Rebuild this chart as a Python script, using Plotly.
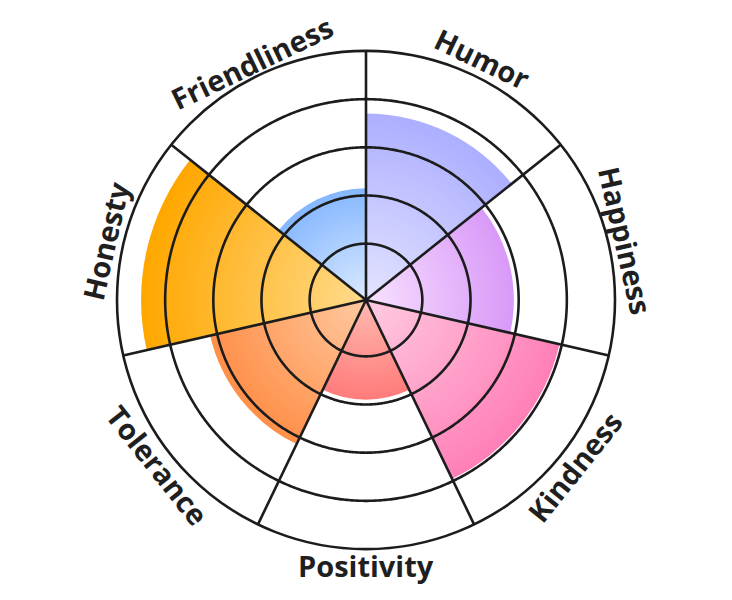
import numpy as np
import plotly.graph_objects as go

# ---------------- data ----------------
categories = ["Humor", "Happiness", "Kindness", "Positivity", "Tolerance", "Honesty", "Friendliness"]
values = [74, 58, 79, 38, 63, 90, 43]
inner_colors = ["#E4E4FF", "#F8E2FF", "#FFCCE2", "#FFBAB0", "#FFCAA2", "#FFDC8E", "#DDEBFF"]
outer_colors = ["#ADAFFF", "#D99AF8", "#FF80B7", "#FF7C7C", "#FF904A", "#FFA700", "#86B8FF"]
grid_values = [20, 40, 60, 80]
r_min, r_max = -3.4, 100

# ---------------- geometry helpers ----------------
W, H = 732, 600
OFF = 8  # page body margin
CX, CY, RPX = 366 - OFF, 300 - OFF, 249
n = len(categories)
sector = 360 / n
centers = [sector * (i + 0.5) for i in range(n)]
boundaries = [sector * i for i in range(n)]
STEPS = 70
FONT_SIZE = 29


def hex2rgb(h):
    h = h.lstrip("#")
    return [int(h[i:i + 2], 16) for i in (0, 2, 4)]


def mix(c0, c1, f):
    a, b = hex2rgb(c0), hex2rgb(c1)
    return "rgb(%d,%d,%d)" % tuple(round(a[i] + (b[i] - a[i]) * f) for i in range(3))


fig = go.Figure()

# gradient bars: overlaid, longest (darkest) first
for cat, val, c0, c1, th in zip(categories, values, inner_colors, outer_colors, centers):
    length = val - r_min
    fr = np.arange(STEPS, 0, -1) / STEPS
    fig.add_trace(go.Barpolar(
        r=length * fr,
        base=[r_min] * STEPS,
        theta=[th] * STEPS,
        width=[sector] * STEPS,
        marker=dict(color=[mix(c0, c1, f) for f in fr], line=dict(width=0)),
        name=cat, showlegend=False, hoverinfo="skip",
    ))

line_col = "#1c1c1c"
# grid circles drawn above bars
circle_theta = np.linspace(0, 360, 721)
for g in grid_values:
    fig.add_trace(go.Scatterpolar(
        r=[g] * len(circle_theta), theta=circle_theta, mode="lines",
        line=dict(color=line_col, width=2.6), showlegend=False, hoverinfo="skip",
    ))
# spokes at sector boundaries
for b in boundaries:
    fig.add_trace(go.Scatterpolar(
        r=[r_min, r_max], theta=[b, b], mode="lines",
        line=dict(color=line_col, width=2.6), showlegend=False, hoverinfo="skip",
    ))

# labels along the outer ring (tangent, pulled in a little for long words)
R_LABEL = 269
annotations = []
for cat, th in zip(categories, centers):
    L = len(cat) * 0.55 * FONT_SIZE
    rp = R_LABEL - 0.3 * (L / 2) ** 2 / (2 * R_LABEL)
    rad = np.deg2rad(th)
    px = CX + rp * np.sin(rad)
    py = CY - rp * np.cos(rad)
    if th <= 90:
        ang = th
    elif th < 270:
        ang = th - 180
    else:
        ang = th - 360
    annotations.append(dict(
        x=px / W, y=1 - py / H, xref="paper", yref="paper",
        text=cat, showarrow=False, textangle=ang,
        xanchor="center", yanchor="middle",
        font=dict(family="Open Sans", size=FONT_SIZE, color="#1f1f1f", weight="bold"),
    ))

fig.update_layout(
    width=W, height=H,
    margin=dict(l=0, r=0, t=0, b=0),
    paper_bgcolor="white",
    plot_bgcolor="white",
    showlegend=False,
    annotations=annotations,
    polar=dict(
        domain=dict(x=[(CX - RPX) / W, (CX + RPX) / W], y=[(H - CY - RPX) / H, (H - CY + RPX) / H]),
        bgcolor="white",
        barmode="overlay",
        radialaxis=dict(range=[r_min, r_max], visible=False),
        angularaxis=dict(
            direction="clockwise", rotation=90, thetaunit="degrees",
            showgrid=False, showticklabels=False, ticks="",
            showline=True, linecolor=line_col, linewidth=2.6,
        ),
    ),
)

fig.write_html("out.html")
